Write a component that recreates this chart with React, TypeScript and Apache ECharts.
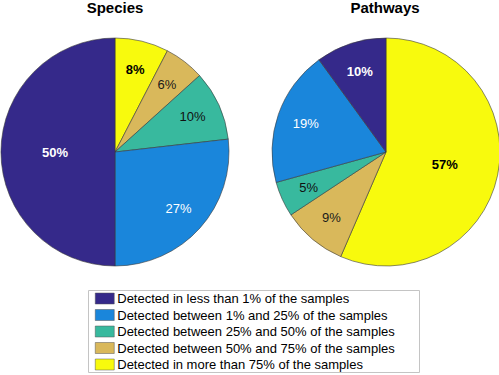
import React, { useEffect, useRef } from "react";
import * as echarts from "echarts";

const categories = [
  "Detected in more than 75% of the samples",
  "Detected between 50% and 75% of the samples",
  "Detected between 25% and 50% of the samples",
  "Detected between 1% and 25% of the samples",
  "Detected in less than 1% of the samples",
];
const legendOrder = [
  "Detected in less than 1% of the samples",
  "Detected between 1% and 25% of the samples",
  "Detected between 25% and 50% of the samples",
  "Detected between 50% and 75% of the samples",
  "Detected in more than 75% of the samples",
];
const colors = ["#f8fa0d", "#d9b85b", "#38b99e", "#1a86db", "#35298a"];
const labelColors = ["#000000", "#1a1a1a", "#111111", "#ffffff", "#ffffff"];
const labelBold = [true, false, false, false, true];

const speciesValues = [7.6, 5.7, 9.9, 26.8, 50];
const pathwaysValues = [56.5, 9.2, 5.0, 19.3, 10.0];
const titles = ["Species", "Pathways"];

const FONT = "'Liberation Sans', Arial, Helvetica, sans-serif";

const fmt = (p: any) => `${Math.round(p.value)}%`;

function makeSeries(values: number[], center: [number, number], radius: number) {
  const base = {
    type: "pie",
    center,
    startAngle: 90,
    clockwise: true,
    avoidLabelOverlap: false,
    silent: true,
    labelLine: { show: false },
    emphasis: { disabled: true },
  };
  const lbl = (i: number, show: boolean) => ({
    show,
    position: "inside",
    formatter: fmt,
    color: labelColors[i],
    fontFamily: FONT,
    fontSize: 13,
    fontWeight: labelBold[i] ? "bold" : "normal",
  });
  const fill = {
    ...base,
    radius,
    data: values.map((v, i) => ({
      name: categories[i],
      value: v,
      itemStyle: { color: colors[i], borderColor: "#3a3a3a", borderWidth: 0.6 },
      label: lbl(i, v >= 50),
    })),
  };
  const overlay = {
    ...base,
    radius: [radius * 0.44, radius],
    data: values.map((v, i) => ({
      name: categories[i],
      value: v,
      itemStyle: { color: "rgba(0,0,0,0)", borderWidth: 0 },
      label: lbl(i, v < 50),
    })),
  };
  return [fill, overlay];
}

export default function App() {
  const ref = useRef<HTMLDivElement>(null);
  useEffect(() => {
    if (!ref.current) return;
    const chart = echarts.init(ref.current, undefined, { renderer: "svg" });
    chart.setOption({
      animation: false,
      backgroundColor: "#ffffff",
      color: colors,
      title: [
        {
          text: titles[0],
          left: 115,
          top: 0,
          textAlign: "center",
          padding: 0,
          textStyle: { fontFamily: FONT, fontSize: 15, fontWeight: "bold", color: "#000" },
        },
        {
          text: titles[1],
          left: 385,
          top: 0,
          textAlign: "center",
          padding: 0,
          textStyle: { fontFamily: FONT, fontSize: 15, fontWeight: "bold", color: "#000" },
        },
      ],
      legend: {
        data: legendOrder,
        orient: "vertical",
        left: 95,
        top: 292,
        padding: 0,
        itemWidth: 19,
        itemHeight: 11,
        itemGap: 3.5,
        icon: "rect",
        selectedMode: false,
        itemStyle: { borderColor: "#555", borderWidth: 0.5 },
        textStyle: { fontFamily: FONT, fontSize: 13, color: "#000", padding: [0, 0, 0, -2] },
      },
      graphic: [
        {
          type: "rect",
          shape: { x: 88.5, y: 290.5, width: 331, height: 82 },
          style: { fill: "none", stroke: "#c4c4c4", lineWidth: 1 },
          z: -1,
        },
      ],
      series: [
        ...makeSeries(speciesValues, [115, 152], 114),
        ...makeSeries(pathwaysValues, [386, 152], 114),
      ],
    });
    return () => chart.dispose();
  }, []);
  return (
    <div
      ref={ref}
      style={{ position: "absolute", left: 0, top: 0, width: 499, height: 375 }}
    />
  );
}
